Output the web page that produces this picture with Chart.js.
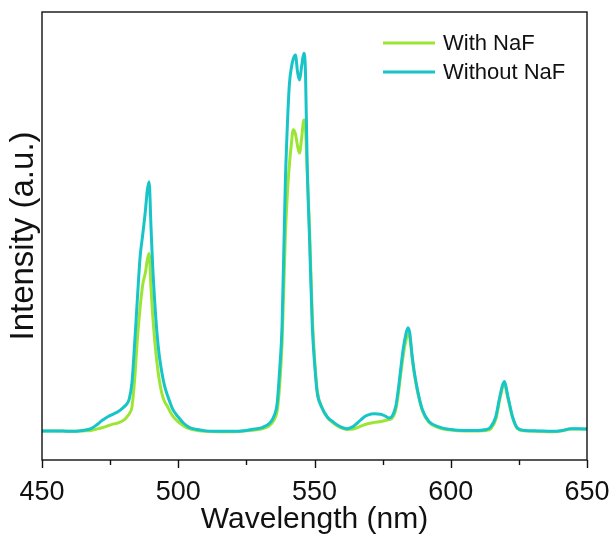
<!DOCTYPE html>
<html>
<head>
<meta charset="utf-8">
<script src="https://cdn.jsdelivr.net/npm/chart.js@4.4.1/dist/chart.umd.min.js"></script>
<style>
  html, body { margin: 0; padding: 0; background: #fff; }
  #wrap { width: 610px; height: 536px; }
</style>
</head>
<body>
<div id="wrap"><canvas id="chart" width="610" height="536"></canvas></div>
<script>
// spectra (wavelength in nm, intensity in arbitrary units 0-100)
const wavelengths = [450, 455, 460, 465, 468, 470, 472, 474, 476, 478, 480, 481, 482, 483, 484, 485, 486, 487, 488, 488.6,
  489.3, 490, 490.6, 491.4, 492.2, 493, 494, 495, 496, 497, 498, 500, 502, 504, 507, 510, 515, 520, 525, 528,
  531, 533.5, 535, 536.3, 537.2, 538.1, 539.3, 540.2, 540.8, 541.5, 542.2, 543, 543.8, 544.5, 545.3, 546.1, 546.7, 547.3, 548.2, 549.2,
  550.1, 551, 552.5, 554.7, 557, 559.6, 562, 564.3, 566, 568, 569.5, 572, 574.3, 576, 577.2, 578.6, 579.8, 580.7, 581.6, 582.6,
  583.5, 584.3, 585, 585.7, 586.5, 587.8, 589.6, 592, 595.6, 600, 605, 610, 613, 614.7, 616.5, 618.1, 619.6, 621.1, 622.7, 624.5,
  627, 632, 637, 641, 644, 647, 650];

const withoutNaF = [6.5, 6.5, 6.4, 6.6, 7.0, 7.8, 8.8, 9.6, 10.2, 10.8, 11.8, 12.4, 13.6, 17.2, 26, 36, 45.3, 50.5, 56, 60,
  62.1, 52, 43.5, 35, 28.3, 23.5, 19.5, 16.5, 14.5, 12.8, 11.3, 9.6, 8.2, 7.3, 6.8, 6.5, 6.4, 6.4, 6.6, 6.9,
  7.3, 8.2, 9.6, 12.7, 20, 30, 62, 77, 84, 87.5, 89.5, 90.4, 86.5, 84.8, 88, 90.8, 86.4, 66.3, 49, 29.7,
  21, 15, 12, 9.6, 8.4, 7.4, 7.0, 7.5, 8.4, 9.5, 10.0, 10.3, 10.2, 9.8, 9.4, 9.9, 11.9, 15.5, 20.1, 25,
  28, 29.5, 28.2, 24, 20.1, 15.6, 11.2, 8.6, 7.4, 6.8, 6.6, 6.6, 6.8, 7.4, 9.6, 14.4, 17.5, 13.8, 9.6, 7.1,
  6.6, 6.5, 6.4, 6.6, 7.0, 7.0, 6.9];

const withNaF = [6.5, 6.5, 6.4, 6.5, 6.6, 6.9, 7.2, 7.6, 8.0, 8.3, 8.9, 9.5, 10.3, 11.8, 18, 27, 34, 39.3, 42, 44.5,
  46.1, 38.5, 32.5, 26.5, 21.7, 18, 14.8, 13.0, 12.0, 10.8, 9.8, 8.5, 7.6, 7.0, 6.6, 6.4, 6.3, 6.3, 6.5, 6.7,
  7.0, 7.7, 8.8, 11.0, 16.5, 26, 50, 61, 66, 70.5, 73.7, 72.8, 70, 68.5, 72, 75.9, 74, 65, 51, 32,
  22, 15.5, 12, 9.5, 8.2, 7.2, 6.8, 6.9, 7.3, 7.8, 8.1, 8.4, 8.6, 8.8, 9.0, 9.4, 11.2, 14.5, 19, 23.5,
  26.5, 28.0, 27.2, 23.5, 19.8, 15.3, 11.0, 8.4, 7.2, 6.7, 6.5, 6.5, 6.6, 7.0, 9.0, 13.8, 17.0, 13.4, 9.4, 7.0,
  6.5, 6.4, 6.3, 6.5, 6.9, 6.9, 6.9];

const majorTicks = [450, 500, 550, 600, 650];
const minorTicks = [475, 525, 575, 625];

const colors = {
  withNaF: '#9de535',
  withoutNaF: '#17c4c8',
  frame: '#111',
  text: '#111'
};

const FONT = "'Liberation Sans', Arial, sans-serif";

function toPoints(ys) {
  return wavelengths.map((x, i) => ({ x: x, y: ys[i] }));
}

// frame, bottom tick marks, axis titles and the legend box are drawn by hand
const framePlugin = {
  id: 'frame',
  afterDraw(chart) {
    const { ctx, chartArea: a, scales } = chart;
    ctx.save();
    ctx.strokeStyle = colors.frame;
    ctx.lineWidth = 1.4;
    ctx.strokeRect(a.left, a.top, a.right - a.left, a.bottom - a.top);

    ctx.beginPath();
    majorTicks.forEach(v => {
      const px = Math.round(scales.x.getPixelForValue(v)) + 0.5;
      ctx.moveTo(px, a.bottom);
      ctx.lineTo(px, a.bottom + 8);
    });
    minorTicks.forEach(v => {
      const px = Math.round(scales.x.getPixelForValue(v)) + 0.5;
      ctx.moveTo(px, a.bottom);
      ctx.lineTo(px, a.bottom + 5);
    });
    ctx.stroke();

    // axis titles
    ctx.fillStyle = colors.text;
    ctx.textAlign = 'center';
    ctx.textBaseline = 'middle';
    ctx.font = '30px ' + FONT;
    ctx.fillText('Wavelength (nm)', (a.left + a.right) / 2, 520);
    ctx.save();
    ctx.translate(24, (a.top + a.bottom) / 2);
    ctx.rotate(-Math.PI / 2);
    ctx.font = '33px ' + FONT;
    ctx.fillText('Intensity (a.u.)', 0, 0);
    ctx.restore();

    // legend
    const items = chart.data.datasets.filter(d => d.legendRow !== undefined)
      .sort((p, q) => p.legendRow - q.legendRow);
    ctx.font = '22px ' + FONT;
    ctx.textAlign = 'left';
    items.forEach((d, i) => {
      const y = 43 + i * 29;
      ctx.strokeStyle = d.borderColor;
      ctx.lineWidth = 3;
      ctx.beginPath();
      ctx.moveTo(383, y);
      ctx.lineTo(435, y);
      ctx.stroke();
      ctx.fillText(d.label, 443, y + 1);
    });
    ctx.restore();
  }
};

new Chart(document.getElementById('chart'), {
  type: 'line',
  data: {
    datasets: [
      {
        label: 'Without NaF',
        data: toPoints(withoutNaF),
        borderColor: colors.withoutNaF,
        borderWidth: 3,
        pointRadius: 0,
        fill: false,
        cubicInterpolationMode: 'monotone',
        order: 0,
        legendRow: 1
      },
      {
        label: 'With NaF',
        data: toPoints(withNaF),
        borderColor: colors.withNaF,
        borderWidth: 3,
        pointRadius: 0,
        fill: false,
        cubicInterpolationMode: 'monotone',
        order: 1,
        legendRow: 0
      }
    ]
  },
  options: {
    responsive: false,
    animation: false,
    devicePixelRatio: 1,
    layout: { padding: { top: 12, right: 23, left: 0, bottom: 0 } },
    plugins: {
      legend: { display: false },
      tooltip: { enabled: false }
    },
    scales: {
      x: {
        type: 'linear',
        min: 450,
        max: 650,
        afterBuildTicks: scale => { scale.ticks = majorTicks.map(v => ({ value: v })); },
        afterFit: scale => {
          scale.height = 76;
          scale.paddingLeft = 0;
          scale.paddingRight = 0;
        },
        grid: { display: false, drawTicks: false },
        border: { display: false },
        ticks: {
          padding: 16,
          maxRotation: 0,
          color: colors.text,
          font: { family: FONT, size: 27 }
        }
      },
      y: {
        type: 'linear',
        min: 0,
        max: 100,
        afterFit: scale => { scale.width = 42; },
        grid: { display: false, drawTicks: false },
        border: { display: false },
        ticks: { display: false }
      }
    }
  },
  plugins: [framePlugin]
});
</script>
</body>
</html>
